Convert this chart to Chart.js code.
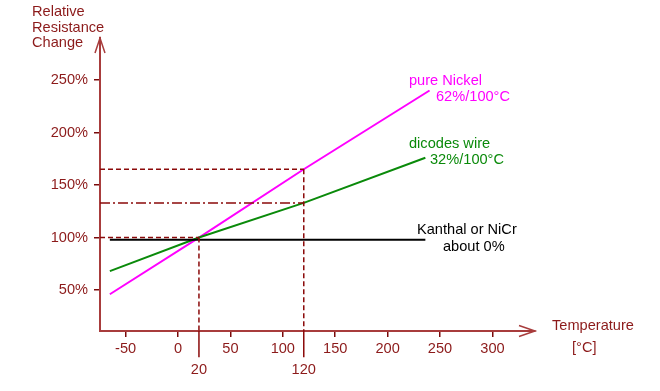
<!DOCTYPE html>
<html>
<head>
<meta charset="utf-8">
<script src="https://cdn.jsdelivr.net/npm/chart.js@4.4.1/dist/chart.umd.min.js"></script>
<style>
html,body{margin:0;padding:0;background:#fff;}
canvas{display:block;}
</style>
</head>
<body>
<canvas id="c" width="660" height="391"></canvas>
<script>
// ---- data ----
const xTicks = [-50, 0, 50, 100, 150, 200, 250, 300];
const yTicks = [50, 100, 150, 200, 250];
const markTemps = [20, 120];

const nickelT = [-65, 20, 120, 240];
const nickelR = [46, 100, 165, 240];
const dicodesT = [-65, 20, 120, 236];
const dicodesR = [68, 100, 133, 176];
const kanthalT = [-65, 236];
const kanthalR = [98, 98];

const refNickelAt120 = 165;
const refDicodesAt120 = 133;
const refBase = 100;

const xMin = -74.4, xMax = 340.6, yMin = 11, yMax = 290;

const RED = '#8c1a1a';
const DASH = '#8b0a0a';
const FONT = '"Liberation Sans", Arial, sans-serif';

const pts = (xs, ys) => xs.map((x, i) => ({x, y: ys[i]}));

const datasets = [
  {data: pts([xMin, markTemps[0]], [refBase, refBase]), borderColor: DASH, borderWidth: 1.5, borderDash: [5, 3]},
  {data: pts([xMin, markTemps[1]], [refNickelAt120, refNickelAt120]), borderColor: DASH, borderWidth: 1.5, borderDash: [5, 3]},
  {data: pts([xMin, markTemps[1]], [refDicodesAt120, refDicodesAt120]), borderColor: DASH, borderWidth: 1.5, borderDash: [10, 3, 2, 3]},
  {data: pts([markTemps[0], markTemps[0]], [refBase, yMin]), borderColor: DASH, borderWidth: 1.5, borderDash: [5, 3]},
  {data: pts([markTemps[1], markTemps[1]], [refNickelAt120, yMin]), borderColor: DASH, borderWidth: 1.5, borderDash: [5, 3]},
  {data: pts([markTemps[0], markTemps[0]], [yMin, -14]), borderColor: DASH, borderWidth: 1.5, clip: false},
  {data: pts([markTemps[1], markTemps[1]], [yMin, -14]), borderColor: DASH, borderWidth: 1.5, clip: false},
  {data: pts(kanthalT, kanthalR), borderColor: '#000000', borderWidth: 2},
  {data: pts(dicodesT, dicodesR), borderColor: '#0a8a0a', borderWidth: 2},
  {data: pts(nickelT, nickelR), borderColor: '#ff00ff', borderWidth: 2},
].map(d => Object.assign({showLine: true, pointRadius: 0, fill: false, tension: 0}, d));

const decor = {
  id: 'decor',
  afterDraw(chart) {
    const ctx = chart.ctx, a = chart.chartArea, xs = chart.scales.x;
    ctx.save();
    // arrows
    ctx.strokeStyle = '#a83c3c';
    ctx.lineWidth = 1.5;
    ctx.beginPath();
    ctx.moveTo(a.left - 5, a.top + 15); ctx.lineTo(a.left, a.top); ctx.lineTo(a.left + 5, a.top + 15);
    ctx.moveTo(a.right - 16, a.bottom - 5.5); ctx.lineTo(a.right, a.bottom); ctx.lineTo(a.right - 16, a.bottom + 5.5);
    ctx.stroke();
    // texts
    ctx.font = '14.6px ' + FONT;
    ctx.textBaseline = 'alphabetic';
    ctx.textAlign = 'left';
    ctx.fillStyle = RED;
    ctx.fillText('Relative', 32, 16);
    ctx.fillText('Resistance', 32, 31.5);
    ctx.fillText('Change', 32, 47);
    ctx.fillText('Temperature', 552, 330);
    ctx.fillText('[°C]', 572, 352);
    ctx.fillStyle = '#ff00ff';
    ctx.fillText('pure Nickel', 409, 85);
    ctx.fillText('62%/100°C', 436, 101);
    ctx.fillStyle = '#0a8a0a';
    ctx.fillText('dicodes wire', 409, 148);
    ctx.fillText('32%/100°C', 430, 164);
    ctx.fillStyle = '#000000';
    ctx.fillText('Kanthal or NiCr', 417, 234);
    ctx.fillText('about 0%', 443, 251);
    ctx.fillStyle = RED;
    ctx.textAlign = 'center';
    markTemps.forEach(t => ctx.fillText(String(t), xs.getPixelForValue(t), 374));
    ctx.restore();
  }
};

const axisCommon = {
  border: {display: true, color: '#a83c3c', width: 2},
  grid: {drawOnChartArea: false, drawTicks: true, tickLength: 6, color: '#7a0a0a', lineWidth: 1.5},
};

new Chart(document.getElementById('c'), {
  type: 'scatter',
  data: {datasets},
  options: {
    responsive: false,
    animation: false,
    layout: {padding: {left: 0, right: 125, top: 38, bottom: 0}},
    plugins: {legend: {display: false}, tooltip: {enabled: false}},
    scales: {
      x: Object.assign({}, axisCommon, {
        type: 'linear', position: 'bottom', min: xMin, max: xMax,
        afterBuildTicks: s => { s.ticks = xTicks.map(v => ({value: v})); },
        afterFit: s => { s.height = 60; },
        ticks: {color: RED, font: {size: 14.6, family: FONT}, padding: 3, maxRotation: 0, autoSkip: false, callback: v => String(v)}
      }),
      y: Object.assign({}, axisCommon, {
        type: 'linear', position: 'left', min: yMin, max: yMax,
        afterBuildTicks: s => { s.ticks = yTicks.map(v => ({value: v})); },
        afterFit: s => { s.width = 100; },
        ticks: {color: RED, font: {size: 14.6, family: FONT}, padding: 6, autoSkip: false, callback: v => v + '%'}
      })
    }
  },
  plugins: [decor]
});
</script>
</body>
</html>
